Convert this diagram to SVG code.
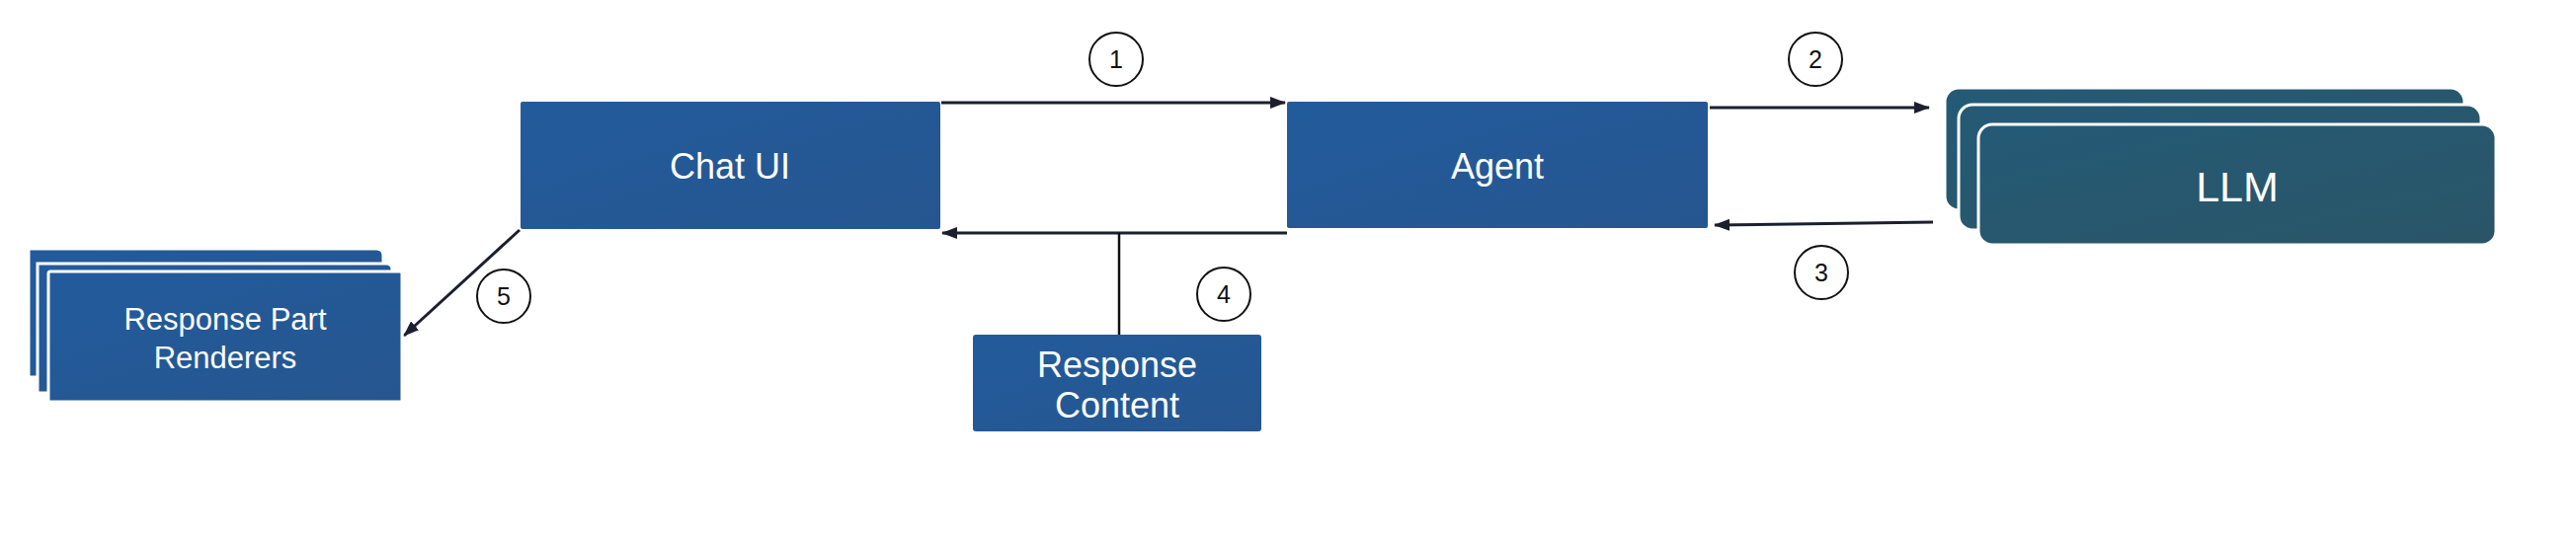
<svg xmlns="http://www.w3.org/2000/svg" width="2608" height="546" viewBox="0 0 2608 546">
  <defs>
    <linearGradient id="blueGrad" x1="0" y1="0" x2="1" y2="1">
      <stop offset="0" stop-color="#225b9c"/>
      <stop offset="1" stop-color="#26568f"/>
    </linearGradient>
    <linearGradient id="tealGrad" x1="0" y1="0" x2="1" y2="1">
      <stop offset="0" stop-color="#245a76"/>
      <stop offset="1" stop-color="#2a5566"/>
    </linearGradient>
    <marker id="arrow" markerUnits="userSpaceOnUse" markerWidth="16" markerHeight="12" refX="15" refY="6" orient="auto">
      <path d="M0,0 L16,6 L0,12 z" fill="#1b1f2e"/>
    </marker>
    <style>
      .box { fill: url(#blueGrad); }
      .stackBlue { fill: url(#blueGrad); stroke: #ffffff; stroke-width: 3; }
      .stackTeal { fill: url(#tealGrad); stroke: #ffffff; stroke-width: 3; }
      .label { font-family: "Liberation Sans", Arial, sans-serif; fill: #ffffff; text-anchor: middle; }
      .conn { stroke: #1b1f2e; stroke-width: 3; fill: none; }
      .plain { stroke: #111111; stroke-width: 2.5; fill: none; }
      .badge circle { fill: #ffffff; stroke: #111111; stroke-width: 2; }
      .badge text { font-family: "Liberation Sans", Arial, sans-serif; font-size: 25px; fill: #111111; text-anchor: middle; }
    </style>
  </defs>
  <rect x="0" y="0" width="2608" height="546" fill="#ffffff"/>

  <g id="connectors">
    <line class="conn" x1="953" y1="104" x2="1301" y2="104" marker-end="url(#arrow)"/>
    <line class="conn" x1="1731" y1="109" x2="1953" y2="109" marker-end="url(#arrow)"/>
    <line class="conn" x1="1957" y1="225" x2="1736" y2="228" marker-end="url(#arrow)"/>
    <line class="conn" x1="1303" y1="236" x2="954" y2="236" marker-end="url(#arrow)"/>
    <line class="plain" x1="1133" y1="236" x2="1133" y2="339"/>
    <line class="conn" x1="526" y1="233" x2="409" y2="340" marker-end="url(#arrow)"/>
  </g>

  <g id="badges">
    <g class="badge" id="badge1"><circle cx="1130" cy="60" r="27"/><text x="1130" y="69">1</text></g>
    <g class="badge" id="badge2"><circle cx="1838" cy="60" r="27"/><text x="1838" y="69">2</text></g>
    <g class="badge" id="badge3"><circle cx="1844" cy="276" r="27"/><text x="1844" y="285">3</text></g>
    <g class="badge" id="badge4"><circle cx="1239" cy="298" r="27"/><text x="1239" y="307">4</text></g>
    <g class="badge" id="badge5"><circle cx="510" cy="300" r="27"/><text x="510" y="309">5</text></g>
  </g>

  <g id="chat-ui">
    <rect class="box" x="527" y="103" width="425" height="129" rx="2"/>
    <text class="label" x="739" y="181" font-size="36">Chat UI</text>
  </g>

  <g id="agent">
    <rect class="box" x="1303" y="103" width="426" height="128" rx="2"/>
    <text class="label" x="1516" y="181" font-size="36">Agent</text>
  </g>

  <g id="response-content">
    <rect class="box" x="985" y="339" width="292" height="98" rx="3"/>
    <text class="label" x="1131" y="382" font-size="36">Response</text>
    <text class="label" x="1131" y="423" font-size="36">Content</text>
  </g>

  <g id="response-part-renderers">
    <path class="stackBlue" d="M29,252 H381 Q388,252 388,259 V382 H29 Z"/>
    <path class="stackBlue" d="M38,267 H391 Q397,267 397,273 V398 H38 Z"/>
    <rect class="stackBlue" x="49" y="275" width="358" height="132" rx="2"/>
    <text class="label" x="228" y="334" font-size="31">Response Part</text>
    <text class="label" x="228" y="373" font-size="31">Renderers</text>
  </g>

  <g id="llm">
    <rect class="stackTeal" x="1969" y="89" width="526" height="124" rx="14"/>
    <rect class="stackTeal" x="1983" y="106" width="529" height="127" rx="14"/>
    <rect class="stackTeal" x="2003" y="126" width="524" height="122" rx="14"/>
    <text class="label" x="2265" y="204" font-size="43">LLM</text>
  </g>
</svg>
